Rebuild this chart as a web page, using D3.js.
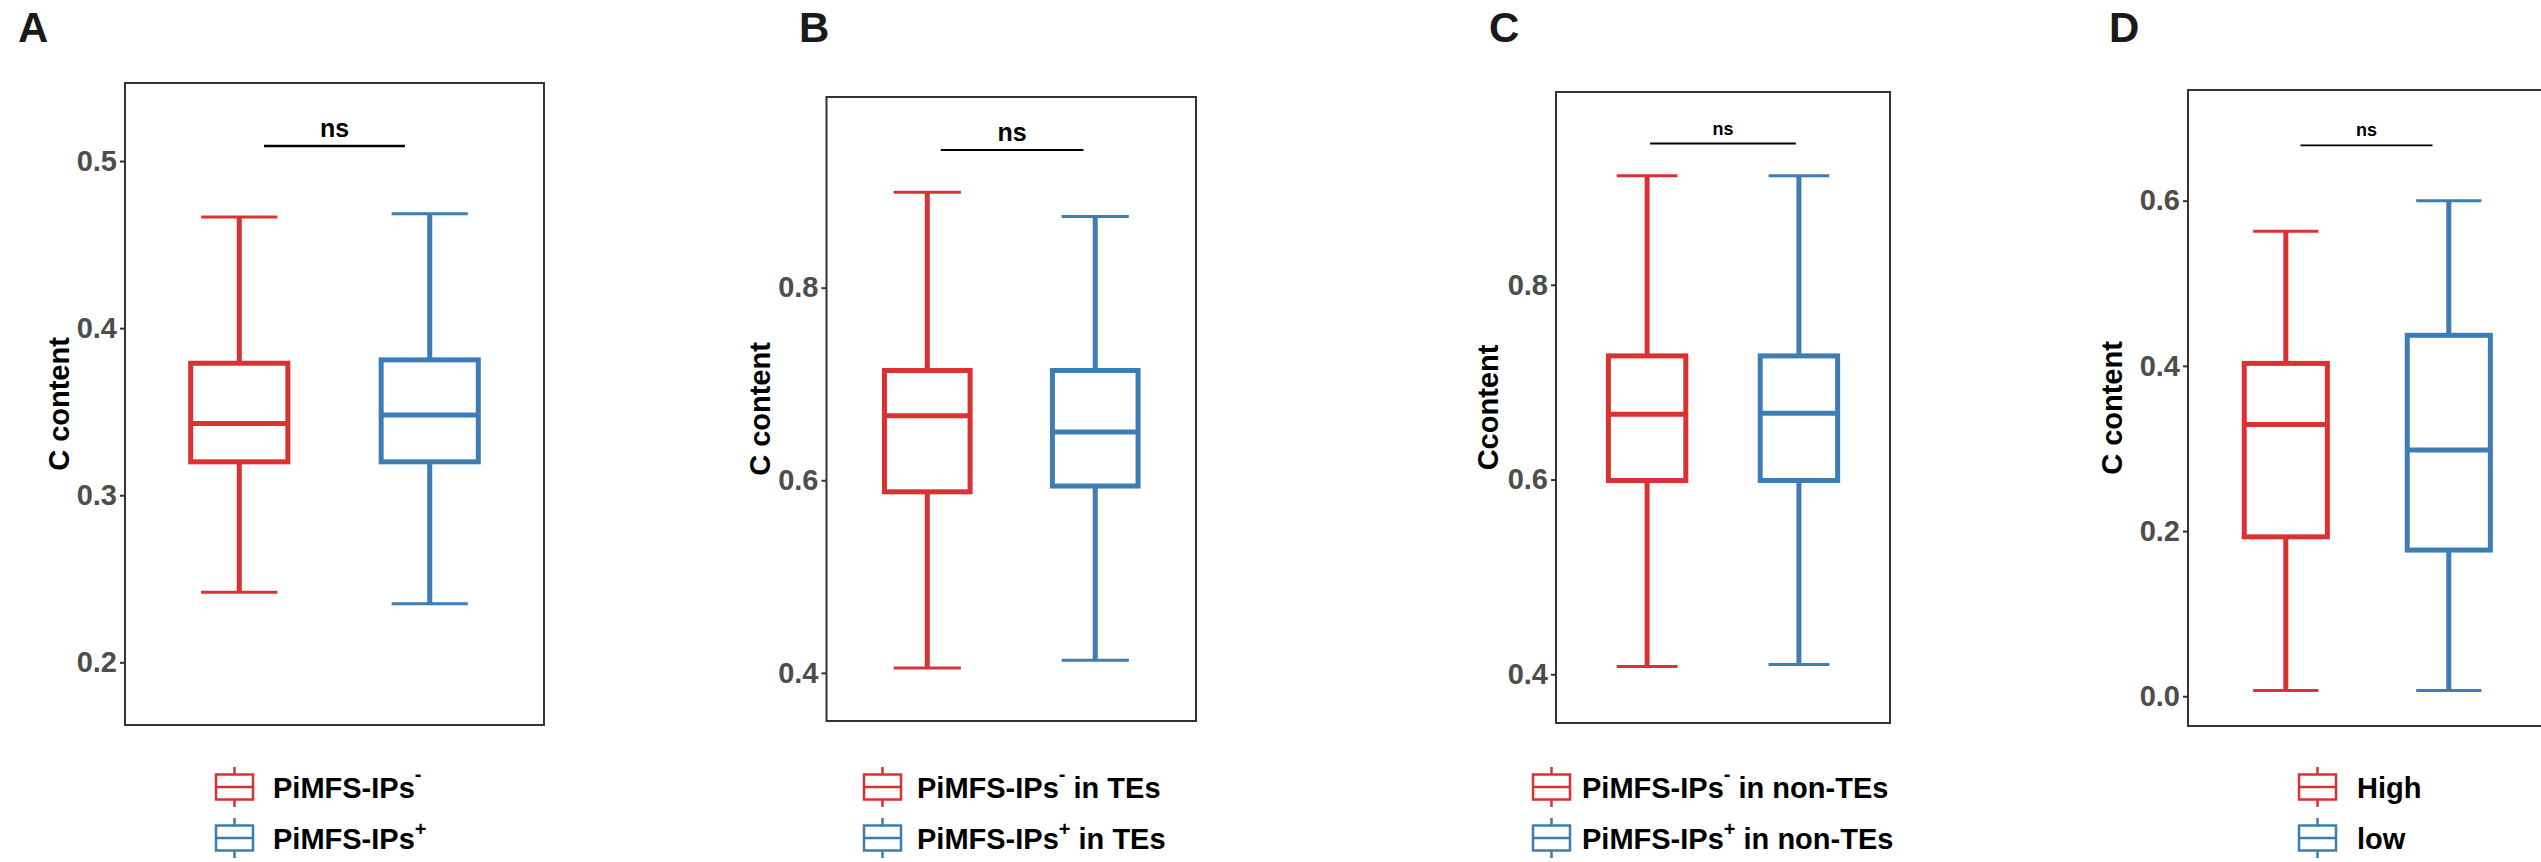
<!DOCTYPE html>
<html>
<head>
<meta charset="utf-8">
<script src="https://cdn.jsdelivr.net/npm/d3@7"></script>
<style>
  body { margin: 0; background: #ffffff; }
  svg { display: block; }
</style>
</head>
<body>
<svg id="Chart"></svg>
<script>
// values (five-number summaries: lower whisker, Q1, median, Q3, upper whisker)
const panelLetters = ["A", "B", "C", "D"]
const yTitles = ["C content", "C content", "Ccontent", "C content"]
const yTicks = [[0.2, 0.3, 0.4, 0.5], [0.4, 0.6, 0.8], [0.4, 0.6, 0.8], [0.0, 0.2, 0.4, 0.6]]
const yDomains = [[0.1625, 0.5467], [0.350, 0.998], [0.350, 0.998], [-0.036, 0.734]]
const redStats = [
    [0.242, 0.320, 0.343, 0.379, 0.4665],
    [0.405, 0.588, 0.667, 0.714, 0.899],
    [0.408, 0.599, 0.667, 0.727, 0.912],
    [0.007, 0.193, 0.329, 0.403, 0.563]
]
const blueStats = [
    [0.235, 0.320, 0.348, 0.381, 0.4685],
    [0.413, 0.594, 0.650, 0.714, 0.874],
    [0.410, 0.599, 0.668, 0.727, 0.912],
    [0.007, 0.177, 0.298, 0.437, 0.600]
]
const sigLabels = ["ns", "ns", "ns", "ns"]
const sigY = [0.509, 0.943, 0.945, 0.667]
const sigSpan = [[1.13, 1.87], [1.08, 1.93], [1.02, 1.98], [1.09, 1.90]]
// legend labels: [text, superscript, suffix]
const redLabels = [["PiMFS-IPs", "-", ""], ["PiMFS-IPs", "-", " in TEs"], ["PiMFS-IPs", "-", " in non-TEs"], ["High", "", ""]]
const blueLabels = [["PiMFS-IPs", "+", ""], ["PiMFS-IPs", "+", " in TEs"], ["PiMFS-IPs", "+", " in non-TEs"], ["low", "", ""]]

let config = {}

function initConfig() {
    let width = 2541
    let height = 862
    let fontFamily = "'Liberation Sans', Arial, Helvetica, sans-serif"
    let red = "#DA3132"
    let blue = "#3D7DB3"
    let frames = [
        {x0: 125, x1: 544, y0: 83, y1: 725, letterX: 18, titleX: 69, legendX: 216, textX: 273, sigSize: 25, sigStroke: 2.5},
        {x0: 826.5, x1: 1196, y0: 97, y1: 721, letterX: 799, titleX: 770, legendX: 864, textX: 917, sigSize: 25, sigStroke: 2},
        {x0: 1556, x1: 1890, y0: 92, y1: 723, letterX: 1489, titleX: 1498, legendX: 1533, textX: 1582, sigSize: 18, sigStroke: 2},
        {x0: 2188, x1: 2546.6, y0: 90, y1: 726, letterX: 2109, titleX: 2122, legendX: 2299, textX: 2357, sigSize: 18, sigStroke: 1.6}
    ]
    let container = d3.select("#Chart")
        .attr("width", width)
        .attr("height", height)
    config = {width, height, container, fontFamily, red, blue, frames}
}

function drawBox(g, x, y, pos, stats, color) {
    let [lo, q1, med, q3, hi] = stats
    let cx = x(pos)
    // whiskers
    g.append("line")
        .attr("x1", cx).attr("x2", cx)
        .attr("y1", y(hi)).attr("y2", y(q3))
        .attr("stroke", color).attr("stroke-width", 5)
    g.append("line")
        .attr("x1", cx).attr("x2", cx)
        .attr("y1", y(q1)).attr("y2", y(lo))
        .attr("stroke", color).attr("stroke-width", 5)
    // caps
    ;[lo, hi].forEach(v => {
        g.append("line")
            .attr("x1", x(pos - 0.2)).attr("x2", x(pos + 0.2))
            .attr("y1", y(v)).attr("y2", y(v))
            .attr("stroke", color).attr("stroke-width", 3)
    })
    g.append("rect")
        .attr("x", x(pos - 0.255))
        .attr("width", x(pos + 0.255) - x(pos - 0.255))
        .attr("y", y(q3))
        .attr("height", y(q1) - y(q3))
        .attr("fill", "#ffffff")
        .attr("stroke", color).attr("stroke-width", 5)
    g.append("line")
        .attr("x1", x(pos - 0.255)).attr("x2", x(pos + 0.255))
        .attr("y1", y(med)).attr("y2", y(med))
        .attr("stroke", color).attr("stroke-width", 5)
}

function drawLegendRow(g, fr, cy, color, label) {
    let {fontFamily} = config
    let lx = fr.legendX
    let cx = lx + 18.5
    g.append("line")
        .attr("x1", cx).attr("x2", cx)
        .attr("y1", cy - 20).attr("y2", cy + 20)
        .attr("stroke", color).attr("stroke-width", 2.5)
    g.append("rect")
        .attr("x", lx).attr("y", cy - 12.5)
        .attr("width", 37).attr("height", 25)
        .attr("fill", "#ffffff")
        .attr("stroke", color).attr("stroke-width", 2.5)
    g.append("line")
        .attr("x1", lx).attr("x2", lx + 37)
        .attr("y1", cy).attr("y2", cy)
        .attr("stroke", color).attr("stroke-width", 2.5)
    let t = g.append("text")
        .attr("x", fr.textX)
        .attr("y", cy + 11)
        .attr("font-family", fontFamily)
        .attr("font-weight", "bold")
        .attr("font-size", "29px")
        .attr("fill", "#000000")
    t.append("tspan").text(label[0])
    if (label[1]) {
        t.append("tspan")
            .attr("dy", label[1] == "-" ? -17 : -13)
            .attr("font-size", "20px")
            .text(label[1])
        t.append("tspan").attr("dy", label[1] == "-" ? 17 : 13).text(label[2])
    } else if (label[2]) {
        t.append("tspan").text(label[2])
    }
}

function drawPanel(i) {
    let {container, fontFamily, red, blue, frames} = config
    let fr = frames[i]
    let g = container.append("g")

    let y = d3.scaleLinear().domain(yDomains[i]).range([fr.y1, fr.y0])
    let x = d3.scaleLinear().domain([0.4, 2.6]).range([fr.x0, fr.x1])

    // panel letter
    g.append("text")
        .attr("x", fr.letterX)
        .attr("y", 42)
        .attr("font-family", fontFamily)
        .attr("font-weight", "bold")
        .attr("font-size", "42px")
        .attr("fill", "#1a1a1a")
        .text(panelLetters[i])

    // y axis
    let axis = g.append("g")
        .attr("transform", `translate(${fr.x0},0)`)
        .call(d3.axisLeft(y).tickValues(yTicks[i]).tickFormat(d3.format(".1f")).tickSize(5).tickPadding(3))
    axis.select(".domain").remove()
    axis.selectAll(".tick line").attr("stroke", "#333333").attr("stroke-width", 2)
    axis.selectAll(".tick text")
        .attr("font-family", fontFamily)
        .attr("font-weight", "bold")
        .attr("font-size", "29px")
        .attr("fill", "#4D4D4D")

    g.append("text")
        .attr("transform", `translate(${fr.titleX},${(fr.y0 + fr.y1) / 2}) rotate(-90)`)
        .attr("text-anchor", "middle")
        .attr("font-family", fontFamily)
        .attr("font-weight", "bold")
        .attr("font-size", "29px")
        .attr("fill", "#000000")
        .text(yTitles[i])

    drawBox(g, x, y, 1, redStats[i], red)
    drawBox(g, x, y, 2, blueStats[i], blue)

    // significance bar
    g.append("line")
        .attr("x1", x(sigSpan[i][0])).attr("x2", x(sigSpan[i][1]))
        .attr("y1", y(sigY[i])).attr("y2", y(sigY[i]))
        .attr("stroke", "#000000").attr("stroke-width", fr.sigStroke)
    g.append("text")
        .attr("x", x((sigSpan[i][0] + sigSpan[i][1]) / 2))
        .attr("y", y(sigY[i]) - 9)
        .attr("text-anchor", "middle")
        .attr("font-family", fontFamily)
        .attr("font-weight", "bold")
        .attr("font-size", fr.sigSize + "px")
        .attr("fill", "#000000")
        .text(sigLabels[i])

    // panel border
    g.append("rect")
        .attr("x", fr.x0).attr("y", fr.y0)
        .attr("width", fr.x1 - fr.x0).attr("height", fr.y1 - fr.y0)
        .attr("fill", "none")
        .attr("stroke", "#333333").attr("stroke-width", 2)

    drawLegendRow(g, fr, 787, red, redLabels[i])
    drawLegendRow(g, fr, 838, blue, blueLabels[i])
}

function drawChart() {
    initConfig()
    panelLetters.forEach((d, i) => drawPanel(i))
}

window.addEventListener("load", drawChart)
</script>
</body>
</html>
